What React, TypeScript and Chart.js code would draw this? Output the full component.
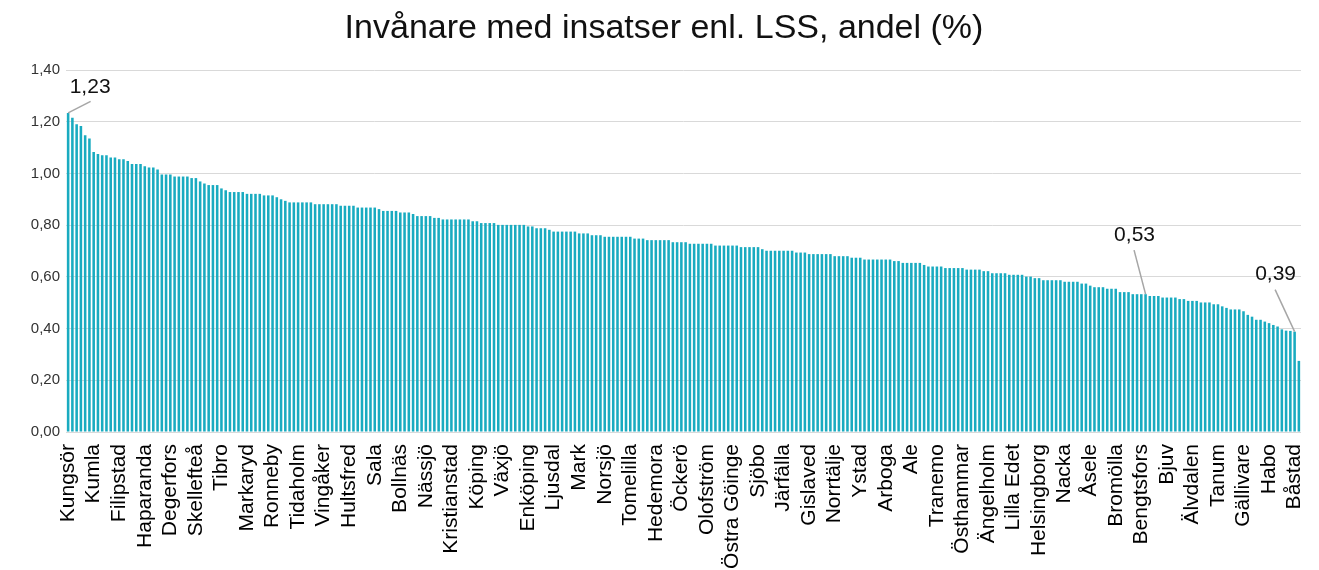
import { useEffect, useRef } from 'react';
import { Chart, registerables } from 'chart.js';

Chart.register(...registerables);

const TITLE = 'Invånare med insatser enl. LSS, andel (%)';

// Tick labels shown on the x axis (every 6th municipality)
const tickLabels = [
  'Kungsör', 'Kumla', 'Filipstad', 'Haparanda', 'Degerfors', 'Skellefteå', 'Tibro',
  'Markaryd', 'Ronneby', 'Tidaholm', 'Vingåker', 'Hultsfred', 'Sala', 'Bollnäs',
  'Nässjö', 'Kristianstad', 'Köping', 'Växjö', 'Enköping', 'Ljusdal', 'Mark',
  'Norsjö', 'Tomelilla', 'Hedemora', 'Öckerö', 'Olofström', 'Östra Göinge', 'Sjöbo',
  'Järfälla', 'Gislaved', 'Norrtälje', 'Ystad', 'Arboga', 'Ale', 'Tranemo',
  'Östhammar', 'Ängelholm', 'Lilla Edet', 'Helsingborg', 'Nacka', 'Åsele', 'Bromölla',
  'Bengtsfors', 'Bjuv', 'Älvdalen', 'Tanum', 'Gällivare', 'Habo', 'Båstad',
];
const LABEL_EVERY = 6;

// Share of inhabitants (%) per municipality, sorted descending
const values = [
  1.234, 1.215, 1.19, 1.183, 1.148, 1.135, 1.083, 1.075, 1.07, 1.07,
  1.062, 1.062, 1.055, 1.055, 1.048, 1.036, 1.036, 1.036, 1.028, 1.023,
  1.023, 1.015, 0.996, 0.996, 0.996, 0.988, 0.988, 0.988, 0.988, 0.982,
  0.982, 0.969, 0.961, 0.955, 0.955, 0.955, 0.942, 0.935, 0.928, 0.928,
  0.928, 0.928, 0.921, 0.921, 0.921, 0.921, 0.915, 0.915, 0.915, 0.908,
  0.9, 0.894, 0.888, 0.888, 0.888, 0.888, 0.888, 0.888, 0.881, 0.881,
  0.881, 0.881, 0.881, 0.881, 0.875, 0.875, 0.875, 0.875, 0.868, 0.868,
  0.868, 0.868, 0.868, 0.862, 0.855, 0.855, 0.855, 0.855, 0.849, 0.849,
  0.849, 0.843, 0.835, 0.835, 0.835, 0.835, 0.828, 0.828, 0.822, 0.822,
  0.822, 0.822, 0.822, 0.822, 0.822, 0.815, 0.815, 0.808, 0.808, 0.808,
  0.808, 0.801, 0.801, 0.801, 0.801, 0.801, 0.801, 0.801, 0.795, 0.795,
  0.788, 0.788, 0.788, 0.782, 0.775, 0.775, 0.775, 0.775, 0.775, 0.775,
  0.768, 0.768, 0.768, 0.761, 0.761, 0.761, 0.755, 0.755, 0.755, 0.755,
  0.755, 0.755, 0.755, 0.748, 0.748, 0.748, 0.742, 0.742, 0.742, 0.742,
  0.742, 0.742, 0.734, 0.734, 0.734, 0.734, 0.728, 0.728, 0.728, 0.728,
  0.728, 0.728, 0.721, 0.721, 0.721, 0.721, 0.721, 0.721, 0.715, 0.715,
  0.715, 0.715, 0.715, 0.707, 0.701, 0.701, 0.701, 0.701, 0.701, 0.701,
  0.701, 0.694, 0.694, 0.694, 0.688, 0.688, 0.688, 0.688, 0.688, 0.688,
  0.68, 0.68, 0.68, 0.68, 0.674, 0.674, 0.674, 0.667, 0.667, 0.667,
  0.667, 0.667, 0.667, 0.667, 0.661, 0.661, 0.654, 0.654, 0.654, 0.654,
  0.654, 0.646, 0.64, 0.64, 0.64, 0.64, 0.634, 0.634, 0.634, 0.634,
  0.634, 0.628, 0.628, 0.628, 0.628, 0.622, 0.622, 0.614, 0.614, 0.614,
  0.614, 0.608, 0.608, 0.608, 0.608, 0.601, 0.601, 0.595, 0.595, 0.587,
  0.587, 0.587, 0.587, 0.587, 0.581, 0.581, 0.581, 0.581, 0.574, 0.574,
  0.566, 0.56, 0.56, 0.56, 0.554, 0.554, 0.554, 0.541, 0.541, 0.541,
  0.533, 0.533, 0.533, 0.533, 0.526, 0.526, 0.526, 0.52, 0.52, 0.52,
  0.52, 0.514, 0.514, 0.507, 0.507, 0.507, 0.501, 0.501, 0.501, 0.494,
  0.494, 0.486, 0.48, 0.474, 0.474, 0.474, 0.467, 0.453, 0.446, 0.434,
  0.434, 0.427, 0.421, 0.414, 0.408, 0.397, 0.392, 0.391, 0.388, 0.275,
];

// Bars with a value callout
const calloutIndices = [0, 253, 288];

// Y axis ticks
const yTicks = [0, 0.2, 0.4, 0.6, 0.8, 1.0, 1.2, 1.4];

const FONT = '"Liberation Sans", Arial, sans-serif';
const fmt = (v: number) => v.toFixed(2).replace('.', ',');

export default function App() {
  const ref = useRef<HTMLCanvasElement>(null);

  useEffect(() => {
    if (!ref.current) return;
    const categories = values.map((_, i) =>
      i % LABEL_EVERY === 0 ? tickLabels[i / LABEL_EVERY] ?? '' : ''
    );

    // pixel offsets for callouts (line end, text centre) relative to bar top
    const calloutStyle: Record<number, { lx: number; ly: number; tx: number; ty: number }> = {
      0: { lx: 22.5, ly: -11.5, tx: 22, ty: -26 },
      253: { lx: -11.5, ly: -44, tx: -11, ty: -59 },
      288: { lx: -19.5, ly: -42, tx: -19, ty: -57 },
    };

    const titlePlugin = {
      id: 'titleText',
      afterDraw(chart: any) {
        const { ctx } = chart;
        ctx.save();
        ctx.font = `34px ${FONT}`;
        ctx.fillStyle = '#111';
        ctx.textAlign = 'center';
        ctx.textBaseline = 'alphabetic';
        ctx.fillText(TITLE, 664, 38);
        ctx.restore();
      },
    };

    const calloutPlugin = {
      id: 'callouts',
      afterDatasetsDraw(chart: any) {
        const meta = chart.getDatasetMeta(0);
        const ctx = chart.ctx;
        ctx.save();
        calloutIndices.forEach((idx) => {
          const el = meta.data[idx];
          const s = calloutStyle[idx];
          if (!el || !s) return;
          const x0 = el.x;
          const y0 = el.y;
          ctx.strokeStyle = '#A6A6A6';
          ctx.lineWidth = 1.5;
          ctx.beginPath();
          ctx.moveTo(x0, y0);
          ctx.lineTo(x0 + s.lx, y0 + s.ly);
          ctx.stroke();
          ctx.font = `21px ${FONT}`;
          ctx.fillStyle = '#111';
          ctx.textAlign = 'center';
          ctx.textBaseline = 'middle';
          ctx.fillText(fmt(values[idx]), x0 + s.tx, y0 + s.ty);
        });
        ctx.restore();
      },
    };

    const chart = new Chart(ref.current, {
      type: 'bar',
      data: {
        labels: categories,
        datasets: [
          {
            data: values,
            backgroundColor: '#19ABC0',
            borderWidth: 0,
            barPercentage: 0.6,
            categoryPercentage: 1,
          },
        ],
      },
      options: {
        responsive: false,
        animation: false,
        devicePixelRatio: 1,
        layout: { padding: { top: 70, right: 18, left: 0, bottom: 0 } },
        plugins: {
          legend: { display: false },
          tooltip: { enabled: false },
          title: { display: false },
        },
        scales: {
          x: {
            offset: true,
            ticks: {
              autoSkip: false,
              maxRotation: 90,
              minRotation: 90,
              padding: 12,
              color: '#000',
              font: { family: FONT, size: 21 },
            },
            grid: { display: false, drawTicks: false },
            border: { display: false },
            afterFit: (s: any) => {
              s.height = 138;
              s.paddingLeft = 0;
              s.paddingRight = 0;
            },
          },
          y: {
            min: yTicks[0],
            max: yTicks[yTicks.length - 1],
            afterBuildTicks: (s: any) => {
              s.ticks = yTicks.map((v) => ({ value: v }));
            },
            ticks: {
              callback: (v: any) => fmt(Number(v)),
              padding: 6,
              color: '#333',
              font: { family: FONT, size: 15 },
            },
            grid: { color: '#D9D9D9', lineWidth: 1, drawTicks: false },
            border: { display: false },
            afterFit: (s: any) => {
              s.width = 66;
            },
          },
        },
      },
      plugins: [titlePlugin, calloutPlugin],
    });
    return () => chart.destroy();
  }, []);

  return (
    <div style={{ position: 'fixed', left: 0, top: 0, width: 1319, height: 570, background: '#fff' }}>
      <canvas ref={ref} width={1319} height={570} />
    </div>
  );
}
